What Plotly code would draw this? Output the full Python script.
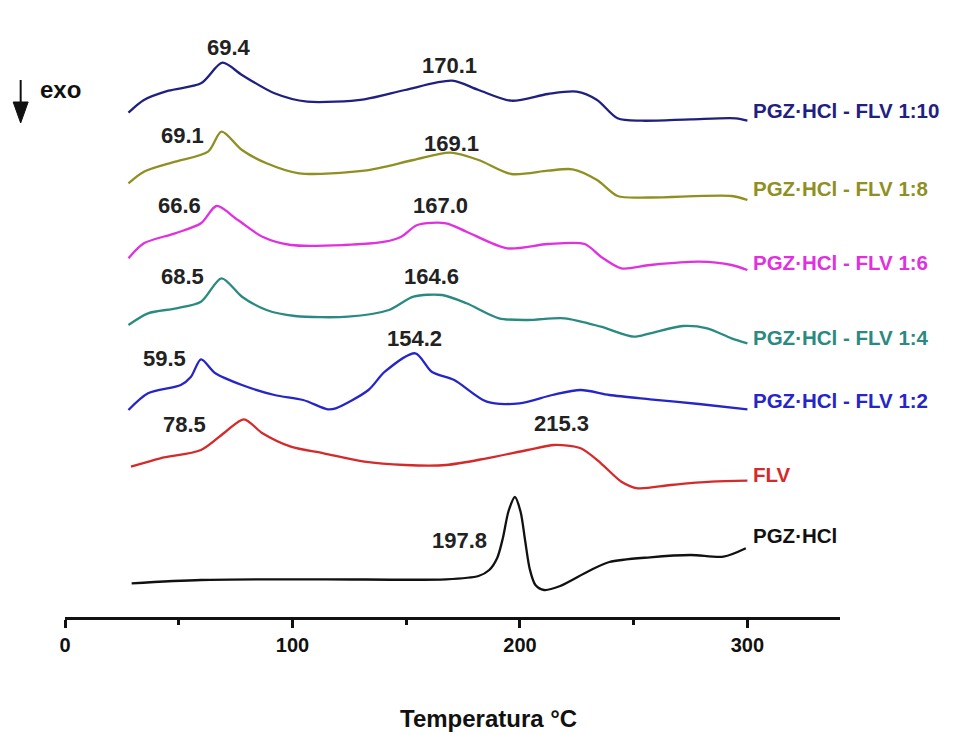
import plotly.graph_objects as go

# ---------------- data (temperature in °C, heat flow in arbitrary offset units) ----------------
t_110 = [27.9, 34.7, 45.5, 59.8, 69.2, 77.8, 92.1, 106.5, 131.6, 149.5, 170.2, 181.8, 196.2, 212.3, 224.9, 233.9, 242.9, 253.6, 275.1, 294.9, 300]
y_110 = [50.43, 51.7, 52.63, 53.37, 55.43, 54.2, 52.37, 51.53, 51.77, 52.7, 53.63, 52.7, 51.63, 52.3, 52.53, 51.7, 49.87, 49.63, 49.77, 49.87, 49.63]

t_18 = [27.9, 34.7, 48.4, 62.9, 68.8, 77.8, 88.6, 102.9, 131.6, 153.2, 169.3, 181.8, 196.2, 212.3, 223.1, 233.9, 242.9, 257.2, 293, 300]
y_18 = [43.37, 44.53, 45.53, 46.53, 48.53, 46.7, 45.37, 44.37, 44.63, 45.7, 46.43, 45.7, 44.3, 44.63, 44.77, 43.7, 42.1, 41.95, 42.1, 41.7]

t_16 = [27.9, 34.7, 48.4, 59.8, 66.6, 76, 86.8, 99.3, 122.6, 140.6, 147.8, 154.9, 167.5, 176.5, 194.4, 212.3, 228.5, 235.6, 244.6, 257.2, 278.7, 293, 300]
y_16 = [35.87, 37.37, 38.37, 39.37, 41.1, 39.7, 38.03, 37.2, 37.2, 37.53, 38.03, 39.2, 39.37, 38.53, 36.87, 37.3, 37.3, 36.03, 34.87, 35.2, 35.53, 35.2, 34.7]

t_14 = [27.9, 36.5, 49, 59.8, 68.8, 77.8, 88.6, 101.1, 124.4, 142.4, 153.2, 165.7, 176.5, 190.8, 203.4, 219.6, 235.6, 250, 257.2, 271.6, 282.3, 293, 300]
y_14 = [29.2, 30.37, 30.87, 31.53, 33.87, 32.03, 30.7, 30.1, 30.03, 30.7, 32.03, 32.2, 31.37, 29.87, 29.7, 29.87, 29.03, 28.03, 28.37, 29.1, 28.87, 27.87, 27.37]

t_12 = [27.9, 36.5, 50.9, 55.4, 59.8, 66.1, 77.8, 92.1, 104.7, 115.5, 119, 133.4, 140.6, 154, 161.2, 171.1, 185.4, 199.8, 214.2, 226.7, 239.3, 257.2, 278.7, 300]
y_12 = [20.7, 22.37, 23.2, 24.03, 25.77, 24.37, 23.2, 22.2, 21.7, 20.77, 20.87, 22.7, 24.53, 26.37, 24.53, 23.7, 21.53, 21.37, 22.2, 22.7, 22.2, 21.77, 21.3, 20.77]

t_flv = [29, 41.9, 59.8, 70.6, 78.7, 86.8, 99.3, 113.7, 131.6, 149.5, 167.5, 185.4, 203.4, 215, 226.7, 235.6, 244.6, 251.8, 266.2, 284.1, 300]
y_flv = [15.03, 15.87, 16.7, 18.53, 19.77, 18.37, 17.03, 16.37, 15.53, 15.2, 15.2, 15.87, 16.7, 17.2, 16.87, 15.37, 13.53, 12.87, 13.2, 13.53, 13.63]

t_pgz = [29.3, 59.8, 113.6, 167.5, 181.8, 186.5, 190, 192.5, 195, 197.8, 200.3, 202.3, 204.3, 206.8, 210.6, 217.7, 230.3, 239.3, 257.2, 275.1, 289.5, 299.3]
y_pgz = [3.37, 3.7, 3.77, 3.77, 4.1, 4.7, 5.9, 7.9, 10.6, 12.0, 10.5, 7.6, 4.8, 3.2, 2.7, 3.1, 4.6, 5.5, 5.97, 6.2, 6.03, 6.87]

series_names = ["PGZ·HCl - FLV 1:10", "PGZ·HCl - FLV 1:8", "PGZ·HCl - FLV 1:6",
                "PGZ·HCl - FLV 1:4", "PGZ·HCl - FLV 1:2", "FLV", "PGZ·HCl"]
series_t = [t_110, t_18, t_16, t_14, t_12, t_flv, t_pgz]
series_y = [y_110, y_18, y_16, y_14, y_12, y_flv, y_pgz]
series_colors = ["#1f2080", "#8f8f22", "#e030e0", "#2a8a82", "#2626c8", "#d42a2a", "#111111"]
label_y = [50.7, 42.9, 35.5, 28.0, 21.7, 14.3, 8.2]

# peak annotations: text, x (°C), y (units)
peak_text = ["69.4", "170.1", "69.1", "169.1", "66.6", "167.0", "68.5", "164.6",
             "59.5", "154.2", "78.5", "215.3", "197.8"]
peak_x = [72.3, 169.0, 51.6, 169.9, 50.3, 165.1, 51.6, 161.1, 43.7, 153.6, 52.5, 218.2, 173.4]
peak_y = [57.0, 55.2, 48.2, 47.4, 41.2, 41.2, 34.1, 34.1, 25.9, 27.9, 19.3, 19.4, 7.7]

x_ticks = [0, 100, 200, 300]

FONT = "Liberation Sans, Arial, sans-serif"

fig = go.Figure()
for name, tx, ty, col in zip(series_names, series_t, series_y, series_colors):
    fig.add_trace(go.Scatter(x=tx, y=ty, mode="lines", name=name,
                             line=dict(color=col, width=2.3, shape="spline", smoothing=0.8),
                             showlegend=False, hoverinfo="skip"))

annotations = []
for name, ly, col in zip(series_names, label_y, series_colors):
    annotations.append(dict(x=301.5, y=ly, xref="x", yref="y", text="<b>%s</b>" % name,
                            showarrow=False, xanchor="left", yanchor="middle",
                            font=dict(family=FONT, size=20.5, color=col)))
for txt, px, py in zip(peak_text, peak_x, peak_y):
    annotations.append(dict(x=px, y=py, xref="x", yref="y", text="<b>%s</b>" % txt,
                            showarrow=False, xanchor="center", yanchor="middle",
                            font=dict(family=FONT, size=22, color="#222222")))
# axis title
annotations.append(dict(x=0.546, y=-0.164, xref="paper", yref="paper",
                        text="<b>Temperatura °C</b>", showarrow=False,
                        xanchor="center", yanchor="middle",
                        font=dict(family=FONT, size=24, color="#111111")))
# exo label
annotations.append(dict(x=-0.035, y=0.855, xref="paper", yref="paper",
                        text="<b>exo</b>", showarrow=False, xanchor="left", yanchor="middle",
                        font=dict(family=FONT, size=24, color="#111111")))

shapes = [
    dict(type="line", xref="paper", yref="paper", x0=-0.0572, x1=-0.0572,
         y0=(617 - 80) / 617, y1=(617 - 104) / 617, line=dict(color="#111111", width=2)),
    dict(type="path", xref="paper", yref="paper",
         path="M %f %f L %f %f L %f %f Z" % (-0.0572 - 7.5 / 775, (617 - 102) / 617,
                                             -0.0572 + 7.5 / 775, (617 - 102) / 617,
                                             -0.0572, (617 - 123) / 617),
         fillcolor="#111111", line=dict(color="#111111", width=1)),
]

fig.update_layout(
    width=973, height=735,
    margin=dict(l=65, r=133, t=0, b=118),
    paper_bgcolor="white", plot_bgcolor="white",
    annotations=annotations, shapes=shapes,
    xaxis=dict(range=[0, 340.7], showgrid=False, zeroline=False,
               showline=True, linecolor="#111111", linewidth=2.5,
               ticks="outside", ticklen=8, tickwidth=2.5, tickcolor="#111111",
               tickvals=x_ticks, ticktext=[str(v) for v in x_ticks],
               tickfont=dict(family=FONT, size=20, color="#111111", weight="bold"),
               minor=dict(tickvals=[50, 150, 250], ticks="outside", ticklen=5,
                          tickwidth=2.5, tickcolor="#111111"),
               fixedrange=True),
    yaxis=dict(range=[0, 61.7], visible=False, fixedrange=True),
)

fig.write_html("out.html")
